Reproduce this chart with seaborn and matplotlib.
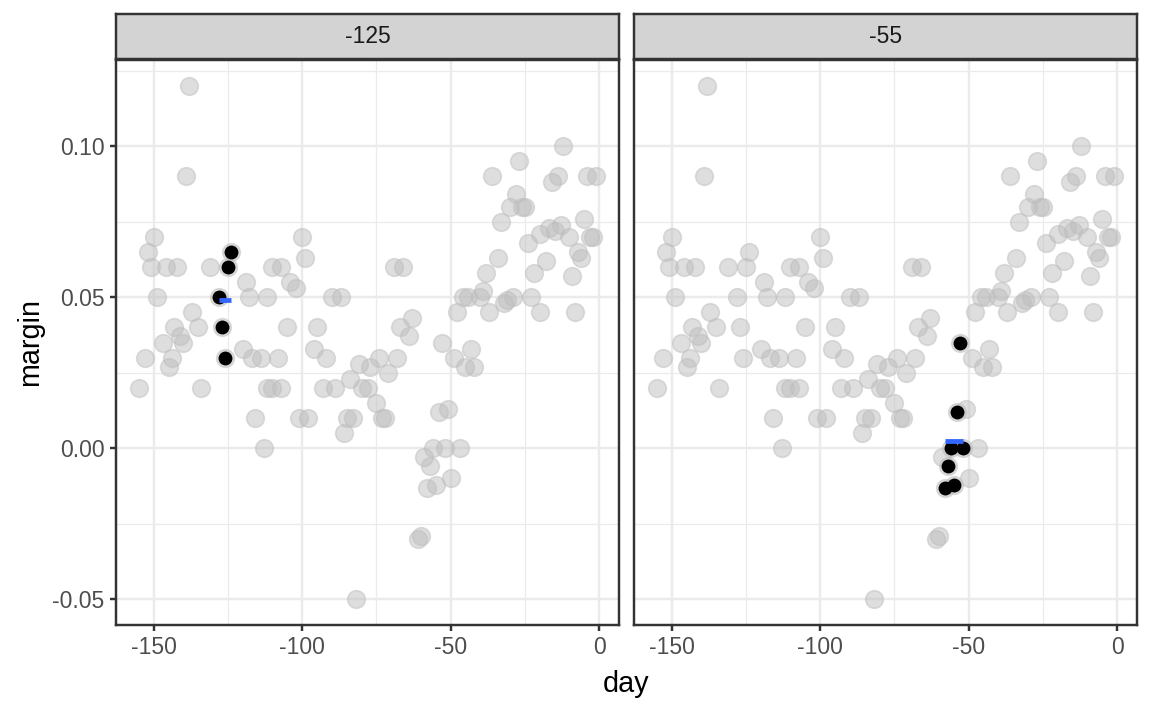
import numpy as np
import pandas as pd
import matplotlib
matplotlib.use("Agg")
import matplotlib.pyplot as plt
import seaborn as sns

# ---- data ----
day = [-138, -139, -150, -152, -151, -146, -142, -131, -124, -125,
       -119, -110, -107, -104, -102, -149, -128, -118, -112, -137,
       -143, -135, -127, -105, -147, -141, -140, -153, -144, -145,
       -126, -120, -117, -114, -108, -155, -134, -112, -110, -107,
       -116, -113,
       -100, -99, -90, -87, -69, -66, -95, -96, -92, -63,
       -67, -64, -53, -49, -81, -77, -74, -68, -71, -84,
       -93, -89, -80, -78, -75, -101, -98, -85, -83, -73,
       -72, -86, -54, -51, -56, -52, -47, -59, -57, -58,
       -55, -50, -61, -60, -82,
       -12, -27, -36, -14, -16, -4, -1, -28, -30, -26,
       -25, -33, -5, -13, -17, -15, -20, -10, -3, -2,
       -24, -7, -6, -34, -18, -38, -22, -9, -39, -46,
       -44, -40, -29, -32, -31, -23, -48, -37, -20, -8,
       -43, -45, -42]
margin = [0.120, 0.090, 0.070, 0.065, 0.060, 0.060, 0.060, 0.060, 0.065, 0.060,
          0.055, 0.060, 0.060, 0.055, 0.053, 0.050, 0.050, 0.050, 0.050, 0.045,
          0.040, 0.040, 0.040, 0.040, 0.035, 0.037, 0.035, 0.030, 0.030, 0.027,
          0.030, 0.033, 0.030, 0.030, 0.030, 0.020, 0.020, 0.020, 0.020, 0.020,
          0.010, 0.000,
          0.070, 0.063, 0.050, 0.050, 0.060, 0.060, 0.040, 0.033, 0.030, 0.043,
          0.040, 0.037, 0.035, 0.030, 0.028, 0.027, 0.030, 0.030, 0.025, 0.023,
          0.020, 0.020, 0.020, 0.020, 0.015, 0.010, 0.010, 0.010, 0.010, 0.010,
          0.010, 0.005, 0.012, 0.013, 0.000, 0.000, 0.000, -0.003, -0.006, -0.013,
          -0.012, -0.010, -0.030, -0.029, -0.050,
          0.100, 0.095, 0.090, 0.090, 0.088, 0.090, 0.090, 0.084, 0.080, 0.080,
          0.080, 0.075, 0.076, 0.074, 0.073, 0.072, 0.071, 0.070, 0.070, 0.070,
          0.068, 0.065, 0.063, 0.063, 0.062, 0.058, 0.058, 0.057, 0.052, 0.050,
          0.050, 0.050, 0.050, 0.048, 0.049, 0.050, 0.045, 0.045, 0.045, 0.045,
          0.033, 0.027, 0.027]

centers = [-125, -55]
center_labels = ["-125", "-55"]
span = 3.5

x_ticks = [-150, -100, -50, 0]
x_tick_labels = ["-150", "-100", "-50", "0"]
x_minor = [-125, -75, -25]
y_ticks = [-0.05, 0.00, 0.05, 0.10]
y_tick_labels = ["-0.05", "0.00", "0.05", "0.10"]
y_minor = [-0.025, 0.025, 0.075, 0.125]

# ---- style ----
sns.set_theme(style="white")
plt.rcParams['font.family'] = ['Liberation Sans', 'DejaVu Sans']

polls = pd.DataFrame({"day": day, "margin": margin})

DPI = 1152 / 7
W, H = 1152, 711
fig = plt.figure(figsize=(W / DPI, H / DPI), dpi=DPI)
fig.patch.set_facecolor("white")

grey20 = "#333333"
grey30 = "#4D4D4D"
grid_col = "#EBEBEB"
lw_base = 1.07
tick_fs = 10.0
title_fs = 12.6

panel_left = [116, 634]
panel_w = 503
panel_top, panel_bot = 60, 625
strip_top = 14

xlim = (-162.7, 6.7)
ylim = (-0.0585, 0.1285)

for i, (c, lab) in enumerate(zip(centers, center_labels)):
    x0 = panel_left[i]
    ax = fig.add_axes([x0 / W, 1 - panel_bot / H, panel_w / W, (panel_bot - panel_top) / H])
    ax.set_facecolor("white")
    ax.set_xlim(*xlim)
    ax.set_ylim(*ylim)
    ax.set_xticks(x_ticks)
    ax.set_xticklabels(x_tick_labels)
    ax.set_xticks(x_minor, minor=True)
    ax.set_yticks(y_ticks)
    ax.set_yticks(y_minor, minor=True)
    if i == 0:
        ax.set_yticklabels(y_tick_labels)
    else:
        ax.set_yticklabels([])
    ax.grid(True, which="major", color=grid_col, linewidth=lw_base)
    ax.grid(True, which="minor", color=grid_col, linewidth=lw_base / 2)
    ax.set_axisbelow(True)
    ax.tick_params(which="minor", length=0)
    ax.tick_params(axis="x", which="major", length=2.75, width=lw_base, color=grey20,
                   labelsize=tick_fs, labelcolor=grey30, pad=2.2, bottom=True)
    if i == 0:
        ax.tick_params(axis="y", which="major", length=2.75, width=lw_base, color=grey20,
                       labelsize=tick_fs, labelcolor=grey30, pad=2.2, left=True)
    else:
        ax.tick_params(axis="y", which="major", length=0, left=False, labelleft=False)
    for sp in ax.spines.values():
        sp.set_color(grey20)
        sp.set_linewidth(lw_base)

    # all polls in grey
    sns.scatterplot(data=polls, x="day", y="margin", ax=ax, color="#BEBEBE",
                    alpha=0.5, s=60, edgecolor="#BEBEBE", linewidth=0.7,
                    legend=False, zorder=2)
    # points in window
    sub = polls[(polls["day"] >= c - span) & (polls["day"] <= c + span)]
    sns.scatterplot(data=sub, x="day", y="margin", ax=ax, color="black",
                    s=37, linewidth=0, legend=False, zorder=3)
    # window average
    avg = pd.DataFrame({"day": [sub["day"].min(), sub["day"].max()],
                        "margin": [sub["margin"].mean()] * 2})
    sns.lineplot(data=avg, x="day", y="margin", ax=ax, color="#3366FF",
                 linewidth=2.1, solid_capstyle="butt", zorder=4)
    ax.set_xlabel("")
    ax.set_ylabel("")

    # facet strip
    sax = fig.add_axes([x0 / W, 1 - (panel_top - 1) / H, panel_w / W, (panel_top - 1 - strip_top) / H])
    sax.set_facecolor("#D3D3D3")
    sax.set_xticks([])
    sax.set_yticks([])
    for sp in sax.spines.values():
        sp.set_color(grey20)
        sp.set_linewidth(lw_base)
    sax.text(0.5, 0.5, lab, ha="center", va="center", fontsize=tick_fs,
             color="#1A1A1A", transform=sax.transAxes)

fig.text((116 + 1137) / 2 / W, 1 - 684 / H, "day", ha="center", va="center",
         fontsize=title_fs, color="black")
fig.text(30 / W, 1 - (panel_top + panel_bot) / 2 / H, "margin", ha="center",
         va="center", rotation=90, fontsize=title_fs, color="black")

fig.savefig("out.png", dpi=DPI, facecolor="white")
